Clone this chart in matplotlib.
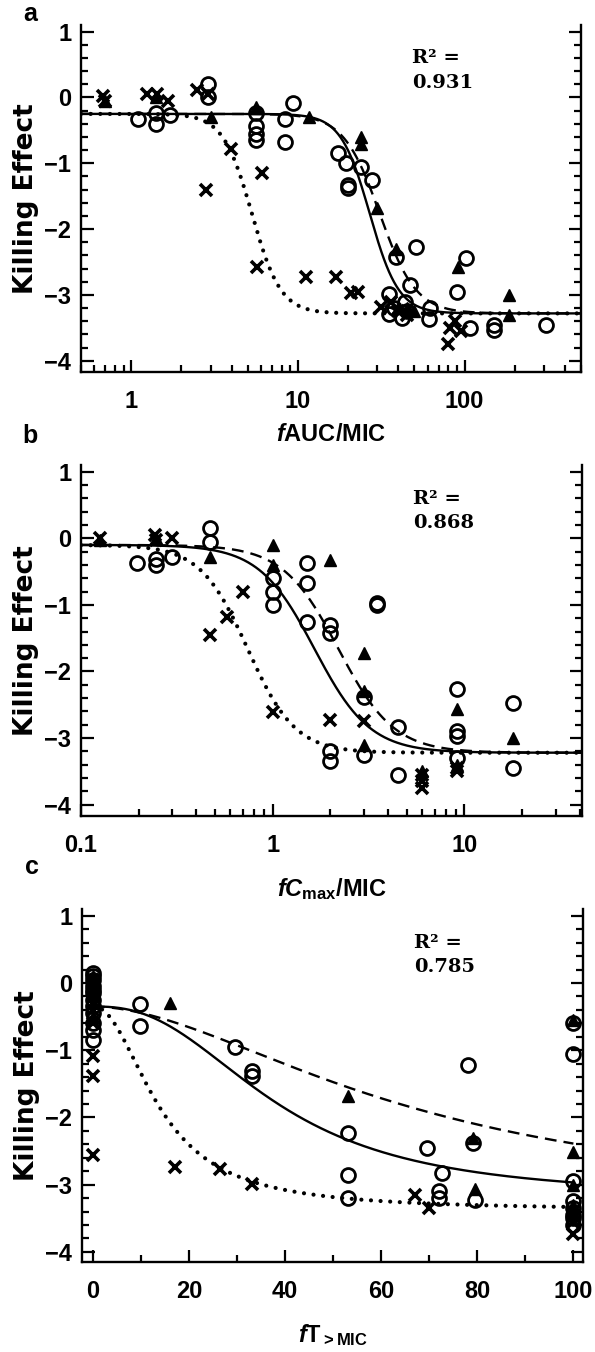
import numpy as np
import matplotlib
matplotlib.use("Agg")
import matplotlib.pyplot as plt
from matplotlib.ticker import LogLocator, MultipleLocator, FixedLocator, NullFormatter

plt.rcParams["font.family"] = ["Liberation Sans", "DejaVu Sans"]
plt.rcParams["font.weight"] = "bold"
plt.rcParams["mathtext.fontset"] = "custom"
plt.rcParams["mathtext.rm"] = "Liberation Sans:bold"
plt.rcParams["mathtext.it"] = "Liberation Sans:bold:italic"
plt.rcParams["mathtext.bf"] = "Liberation Sans:bold"

# ------------------------------------------------------------
# a: fAUC/MIC
# ------------------------------------------------------------
a_circ_x = [1.1, 1.4, 1.4, 1.7, 2.9, 2.9, 5.6, 5.6, 5.6, 5.6, 8.4, 8.4, 9.4,
            17.4, 19.5, 20, 20, 24, 28, 35, 35, 39, 42, 45, 47, 51, 61, 62,
            90, 102, 108, 150, 150, 310, 38, 44]
a_circ_y = [-0.33, -0.23, -0.41, -0.26, 0.2, 0.0, -0.23, -0.43, -0.56, -0.64,
            -0.33, -0.67, -0.09, -0.85, -1.0, -1.33, -1.37, -1.05, -1.25,
            -2.98, -3.29, -2.42, -3.35, -3.25, -2.85, -2.27, -3.36, -3.2,
            -2.95, -2.44, -3.5, -3.45, -3.53, -3.46, -3.2, -3.1]
a_tri_x = [0.7, 1.4, 3.0, 5.6, 11.6, 24, 24, 30, 39, 40, 45, 50, 91, 184, 184]
a_tri_y = [-0.05, 0.0, -0.3, -0.15, -0.29, -0.6, -0.7, -1.68, -2.3, -3.2,
           -3.2, -3.25, -2.57, -3.0, -3.3]
a_x_x = [0.68, 0.7, 1.25, 1.43, 1.67, 2.5, 2.9, 2.8, 3.95, 6.1, 5.7, 11.2,
         16.9, 20.9, 23, 31.5, 36, 40, 45, 80, 82, 88, 95]
a_x_y = [0.02, -0.05, 0.05, 0.05, -0.06, 0.12, 0.05, -1.4, -0.79, -1.15,
         -2.57, -2.73, -2.73, -2.97, -2.96, -3.18, -3.1, -3.25, -3.3, -3.75,
         -3.5, -3.4, -3.55]
# fitted Emax model: top, bottom, EC50, Hill slope
a_fit_circ = [-0.25, -3.28, 27.0, 5.0]
a_fit_tri = [-0.25, -3.28, 31.0, 4.0]
a_fit_x = [-0.25, -3.28, 5.3, 5.0]

# ------------------------------------------------------------
# b: fCmax/MIC
# ------------------------------------------------------------
b_circ_x = [0.195, 0.245, 0.245, 0.3, 0.47, 0.47, 1.0, 1.0, 1.0, 1.5, 1.5,
            1.5, 1.98, 1.98, 2.0, 2.0, 3.0, 3.0, 3.5, 3.5, 4.5, 4.5, 9.1, 9.1,
            9.1, 9.1, 17.8, 17.8]
b_circ_y = [-0.37, -0.31, -0.4, -0.28, 0.15, -0.06, -0.6, -0.8, -1.0, -0.37,
            -0.67, -1.25, -1.3, -1.42, -3.2, -3.35, -2.38, -3.25, -0.97, -1.0,
            -2.84, -3.55, -2.27, -2.9, -2.97, -3.3, -2.47, -3.45]
b_tri_x = [0.125, 0.245, 0.47, 1.0, 1.0, 2.0, 3.0, 3.0, 3.0, 6.0, 9.1, 9.1,
           17.8]
b_tri_y = [-0.02, 0.0, -0.28, -0.1, -0.4, -0.33, -1.72, -2.3, -3.1, -3.5,
           -2.57, -3.4, -3.0]
b_x_x = [0.126, 0.243, 0.245, 0.30, 0.47, 0.58, 0.70, 1.0, 2.0, 3.0, 6.0,
         6.0, 6.0, 9.1, 9.1]
b_x_y = [0.0, 0.05, -0.03, 0.0, -1.45, -1.18, -0.81, -2.61, -2.73, -2.75,
         -3.55, -3.65, -3.75, -3.45, -3.5]
b_fit_circ = [-0.1, -3.22, 1.65, 3.0]
b_fit_tri = [-0.1, -3.22, 2.2, 3.0]
b_fit_x = [-0.1, -3.22, 0.74, 3.5]

# ------------------------------------------------------------
# c: fT>MIC
# ------------------------------------------------------------
c_circ_x = [0, 0, 0, 0, 0, 0, 0, 0, 0, 0, 0, 0, 9.7, 9.7, 29.5, 33, 33, 53,
            53, 53, 69.6, 72.7, 72, 72, 78, 79, 79.5, 100, 100, 100, 100, 100,
            100, 100, 100]
c_circ_y = [0.15, 0.1, 0.05, -0.05, -0.1, -0.15, -0.25, -0.35, -0.45, -0.6,
            -0.7, -0.85, -0.31, -0.64, -0.95, -1.31, -1.38, -2.23, -2.85,
            -3.2, -2.45, -2.82, -3.1, -3.2, -1.22, -2.38, -3.23, -0.6, -1.05,
            -2.94, -3.25, -3.35, -3.45, -3.5, -3.6]
c_tri_x = [0, 0, 0, 0, 0, 0, 16, 53, 79, 79.5, 100, 100, 100, 100, 100]
c_tri_y = [0.1, 0.0, -0.1, -0.2, -0.3, -0.5, -0.3, -1.68, -2.3, -3.06, -0.55,
           -2.52, -3.0, -3.3, -3.45]
c_x_x = [0, 0, 0, 0, 0, 0, 0, 0, 17, 26.5, 33, 67, 70, 100, 100, 100]
c_x_y = [0.05, -0.1, -0.2, -0.4, -0.6, -1.08, -1.38, -2.56, -2.74, -2.77,
         -2.99, -3.15, -3.35, -3.73, -3.4, -3.55]
c_fit_circ = [-0.35, -3.2, 38.0, 2.5]
c_fit_tri = [-0.35, -3.38, 67.0, 1.8]
c_fit_x = [-0.35, -3.38, 14.0, 2.1]

R2 = ["0.931", "0.868", "0.785"]

W, H = 595, 1352


def emax(x, top, bottom, ec50, hill):
    xh = np.power(x, hill)
    return top + (bottom - top) * xh / (ec50 ** hill + xh)


def frac_rect(left, top, right, bottom):
    return [left / W, 1 - bottom / H, (right - left) / W, (bottom - top) / H]


def style_axes(ax):
    for s in ("left", "bottom", "right"):
        ax.spines[s].set_linewidth(1.7)
    ax.spines["top"].set_visible(False)
    ax.tick_params(which="both", direction="in", right=True, top=False,
                   width=1.6, labelsize=17)
    ax.tick_params(which="major", length=9)
    ax.tick_params(which="minor", length=5)
    ax.tick_params(axis="y", pad=7)
    ax.tick_params(axis="x", pad=13)
    ax.set_yticks([1, 0, -1, -2, -3, -4])
    ax.yaxis.set_minor_locator(MultipleLocator(0.2))
    ax.set_ylabel("Killing Effect", family="DejaVu Sans", fontsize=19,
                  fontweight="bold", labelpad=4)
    for lab in ax.get_xticklabels() + ax.get_yticklabels():
        lab.set_fontweight("bold")


def draw_panel(ax, xs, fits, pts):
    lstyles = [dict(ls="-", lw=1.7),
               dict(ls=(0, (5, 3)), lw=1.7),
               dict(ls=(0, (0.01, 2.3)), lw=3.0, dash_capstyle="round")]
    for p, st in zip(fits, lstyles):
        ax.plot(xs, emax(xs, *p), color="black", zorder=2, **st)
    (cx, cy), (tx, ty), (xx, xy) = pts
    ax.plot(cx, cy, "o", ms=10, mfc="none", mec="black", mew=2.0, ls="none",
            zorder=3)
    ax.plot(tx, ty, "^", ms=9, color="black", ls="none", zorder=3)
    ax.plot(xx, xy, "x", ms=8, color="black", mew=2.6, ls="none", zorder=3)


fig = plt.figure(figsize=(W / 100, H / 100), dpi=100)

# panel a
ax_a = fig.add_axes(frac_rect(81, 25, 581, 372))
ax_a.set_xscale("log")
ax_a.set_xlim(0.5, 500)
ax_a.set_ylim(-4.17, 1.1)
xs = np.logspace(np.log10(0.5), np.log10(500), 600)
draw_panel(ax_a, xs, [a_fit_circ, a_fit_tri, a_fit_x],
           [(a_circ_x, a_circ_y), (a_tri_x, a_tri_y), (a_x_x, a_x_y)])
ax_a.xaxis.set_major_locator(FixedLocator([1, 10, 100]))
ax_a.set_xticklabels(["1", "10", "100"])
ax_a.xaxis.set_minor_locator(LogLocator(subs=np.arange(2, 10), numticks=20))
ax_a.xaxis.set_minor_formatter(NullFormatter())
style_axes(ax_a)
ax_a.set_xlabel(r"$\mathit{f}\mathrm{AUC/MIC}$", fontsize=17, labelpad=8)

# panel b
ax_b = fig.add_axes(frac_rect(81, 465, 582, 816))
ax_b.set_xscale("log")
ax_b.set_xlim(0.1, 41)
ax_b.set_ylim(-4.17, 1.1)
xs = np.logspace(-1, np.log10(41), 600)
draw_panel(ax_b, xs, [b_fit_circ, b_fit_tri, b_fit_x],
           [(b_circ_x, b_circ_y), (b_tri_x, b_tri_y), (b_x_x, b_x_y)])
ax_b.xaxis.set_major_locator(FixedLocator([0.1, 1, 10]))
ax_b.set_xticklabels(["0.1", "1", "10"])
ax_b.xaxis.set_minor_locator(LogLocator(subs=np.arange(2, 10), numticks=20))
ax_b.xaxis.set_minor_formatter(NullFormatter())
style_axes(ax_b)
ax_b.set_xlabel(r"$\mathit{fC}_{\mathrm{max}}\mathrm{/MIC}$", fontsize=17,
                labelpad=14)

# panel c
ax_c = fig.add_axes(frac_rect(82, 909, 583, 1262))
ax_c.set_xlim(-2.3, 102)
ax_c.set_ylim(-4.15, 1.1)
xs = np.linspace(0, 100, 600)
draw_panel(ax_c, xs, [c_fit_circ, c_fit_tri, c_fit_x],
           [(c_circ_x, c_circ_y), (c_tri_x, c_tri_y), (c_x_x, c_x_y)])
ax_c.set_xticks([0, 20, 40, 60, 80, 100])
ax_c.xaxis.set_minor_locator(MultipleLocator(10))
style_axes(ax_c)
ax_c.set_xlabel(r"$\mathit{f}\mathrm{T}_{\mathrm{>MIC}}$", fontsize=17,
                labelpad=14)

for ax, r2 in zip([ax_a, ax_b, ax_c], R2):
    ax.text(0.662, 0.93, "R\u00b2 =\n" + r2, transform=ax.transAxes,
            family="DejaVu Serif", fontweight="bold", fontsize=14,
            ha="left", va="top", linespacing=1.45)

fig.text(30 / W, 1 - 14 / H, "a", fontsize=18, ha="center", va="center")
fig.text(30 / W, 1 - 436 / H, "b", fontsize=18, ha="center", va="center")
fig.text(32 / W, 1 - 867 / H, "c", fontsize=18, ha="center", va="center")

fig.savefig("out.png", dpi=100)
